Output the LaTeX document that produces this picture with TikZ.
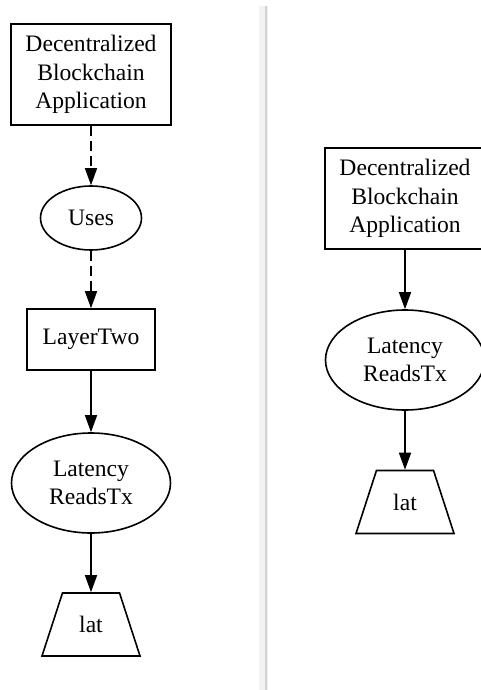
\documentclass[tikz,border=0pt]{standalone}
\usepackage{fontspec}
\setmainfont{Liberation Serif}
\usetikzlibrary{arrows.meta, shapes.geometric}

\begin{document}
\begin{tikzpicture}[x=1pt, y=1pt, >={Triangle[length=17pt,width=12pt]},
  every node/.style={font=\fontsize{23.6}{28.5}\selectfont, align=center, line width=1.6pt, inner sep=0pt},
  box/.style={draw, rectangle, minimum width=160pt, minimum height=101pt},
  oval/.style={draw, ellipse, minimum width=159pt, minimum height=100pt},
  trap/.style={draw, trapezium, trapezium stretches body, trapezium left angle=72, trapezium right angle=72,
    text height=16pt, text depth=0pt, inner ysep=23.5pt, minimum width=98pt},
  edge/.style={->, line width=1.6pt},
  dashedge/.style={edge, dash pattern=on 10pt off 5pt}]
  \useasboundingbox (0,0) rectangle (480,-690);
  % divider
  \fill[gray!10] (259,-6) rectangle (268,-690);
  \draw[gray!35, line width=1.5pt] (266,-6) -- (266,-690);
  % left: app uses LayerTwo
  \node[box] (appL) at (91,-74.5) {Decentralized\\Blockchain\\Application};
  \node[oval, minimum width=101pt, minimum height=64pt] (uses) at (91,-218) {Uses};
  \node[box, minimum width=128pt, minimum height=61pt] (layer) at (91,-339.5) {LayerTwo};
  \node[oval] (readsL) at (91,-483) {Latency\\ReadsTx};
  \node[trap] (latL) at (91,-624.5) {lat};
  \draw[dashedge] (appL) -- (uses);
  \draw[dashedge] (uses) -- (layer);
  \draw[edge] (layer) -- (readsL);
  \draw[edge] (readsL) -- (latL);
  % right: direct
  \node[box] (appR) at (405,-198.5) {Decentralized\\Blockchain\\Application};
  \node[oval] (readsR) at (405,-360) {Latency\\ReadsTx};
  \node[trap] (latR) at (405,-502) {lat};
  \draw[edge] (appR) -- (readsR);
  \draw[edge] (readsR) -- (latR);
\end{tikzpicture}
\end{document}
